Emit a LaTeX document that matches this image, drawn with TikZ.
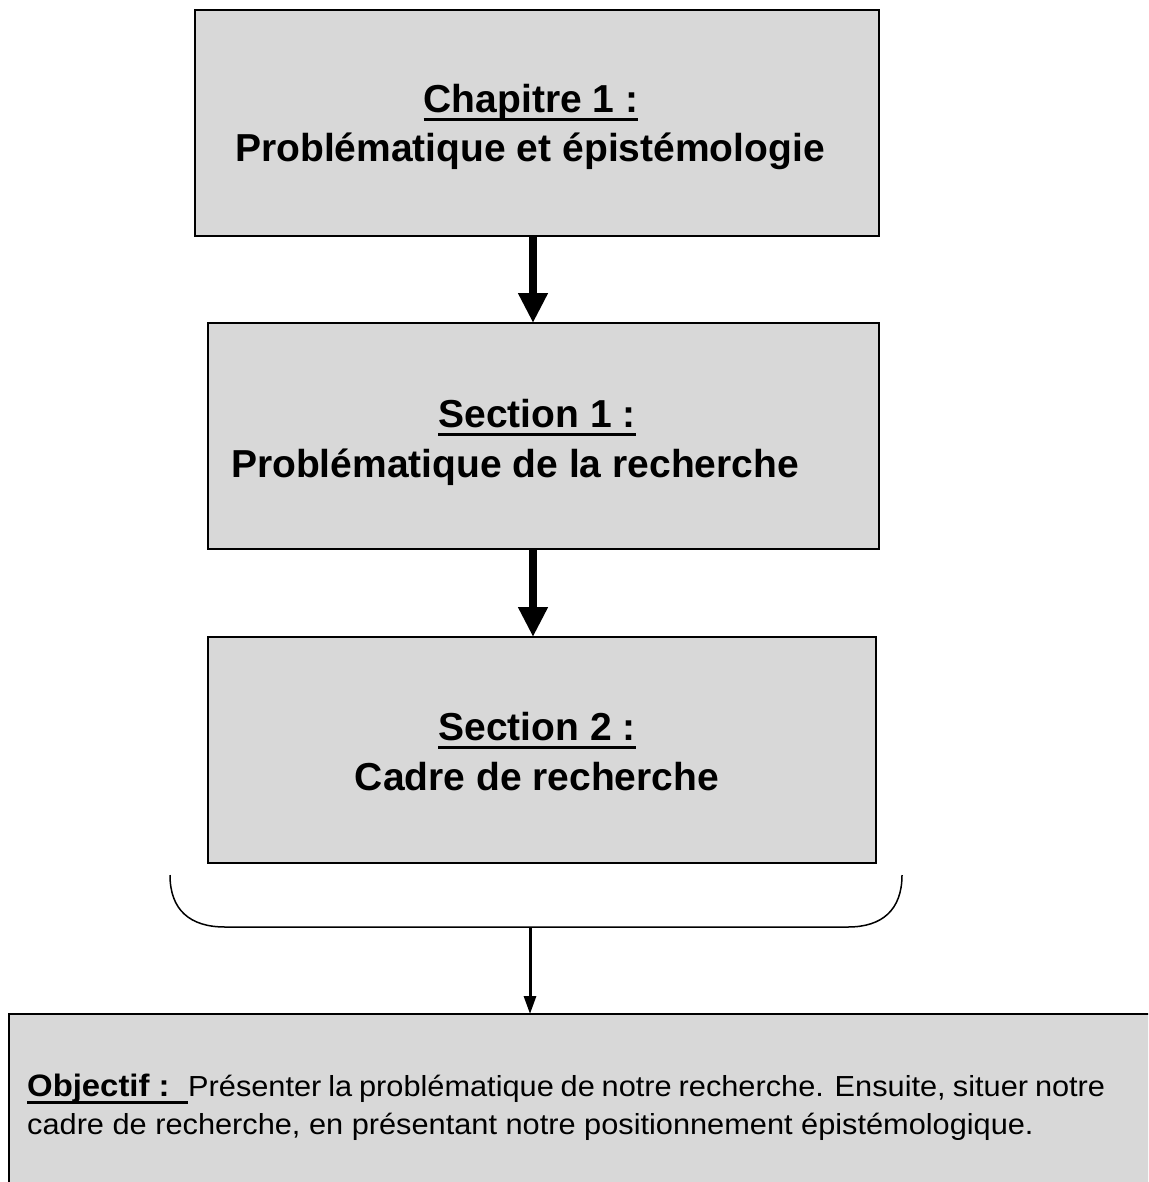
\documentclass[tikz,border=0pt]{standalone}
\usepackage{fontspec}
\setmainfont{Liberation Sans}
\newfontfamily\objfont[FakeStretch=1.06]{Liberation Sans}
\usetikzlibrary{arrows.meta}
\newcommand\myul[2]{\setbox0\hbox{#2}\rlap{\rule[-#1]{\wd0}{3pt}}\box0}
\begin{document}
\begin{tikzpicture}[x=1pt,y=-1pt,
  box/.style={draw=black,line width=2pt,fill=boxgray},
  ttl/.style={anchor=base,font=\bfseries\fontsize{39}{46}\selectfont,inner sep=0pt},
  objtxt/.style={anchor=base west,inner sep=0pt,font=\objfont\fontsize{29}{36}\selectfont},
  bigarrow/.style={line width=8pt,-{Triangle[length=30pt,width=28pt]}},
  thinarrow/.style={line width=3pt,-{Triangle[length=18pt,width=12pt]}}]
\definecolor{boxgray}{RGB}{216,216,216}
\useasboundingbox (0,0) rectangle (1148,1182);
\begin{scope}
\clip (0,0) rectangle (1148,1182);
\draw[box] (9,1014) rectangle (1170,1200);
\end{scope}
\draw[box] (195,10) rectangle (879,236);
\draw[box] (208,323) rectangle (879,549);
\draw[box] (208,637) rectangle (876,863);
\coordinate (b1) at (533,236);
\coordinate (t2) at (533,323);
\coordinate (b2) at (533,549);
\coordinate (t3) at (533,637);
\draw[bigarrow] (b1) -- (t2);
\draw[bigarrow] (b2) -- (t3);
\draw[line width=1.5pt] (170,875) .. controls (170,910) and (190,927) .. (225,927) -- (848,927) .. controls (882,927) and (902,910) .. (902,875);
\coordinate (bb) at (530,927);
\coordinate (ob) at (530,1014);
\draw[thinarrow] (bb) -- (ob);
\node[ttl] (c1) at (531,113) {\myul{8.5pt}{Chapitre 1 :}};
\node[ttl] (c1b) at (530,162) {Problématique et épistémologie};
\node[ttl] (s1) at (537,427) {\myul{8.5pt}{Section 1 :}};
\node[ttl] (s1b) at (515,477) {Problématique de la recherche};
\node[ttl] (s2) at (537,740) {\myul{8.5pt}{Section 2 :}};
\node[ttl] (s2b) at (537,790) {Cadre de recherche};
\node[objtxt] (obj1) at (27,1096)
 {\hbox to 1078pt{\myul{7.5pt}{\hbox to 161pt{\bfseries\fontsize{31}{36}\selectfont Objectif :\hfil}}Présenter la problématique de notre recherche. Ensuite, situer notre}};
\node[objtxt] (obj2) at (27,1134)
 {cadre de recherche, en présentant notre positionnement épistémologique.};
\end{tikzpicture}
\end{document}
